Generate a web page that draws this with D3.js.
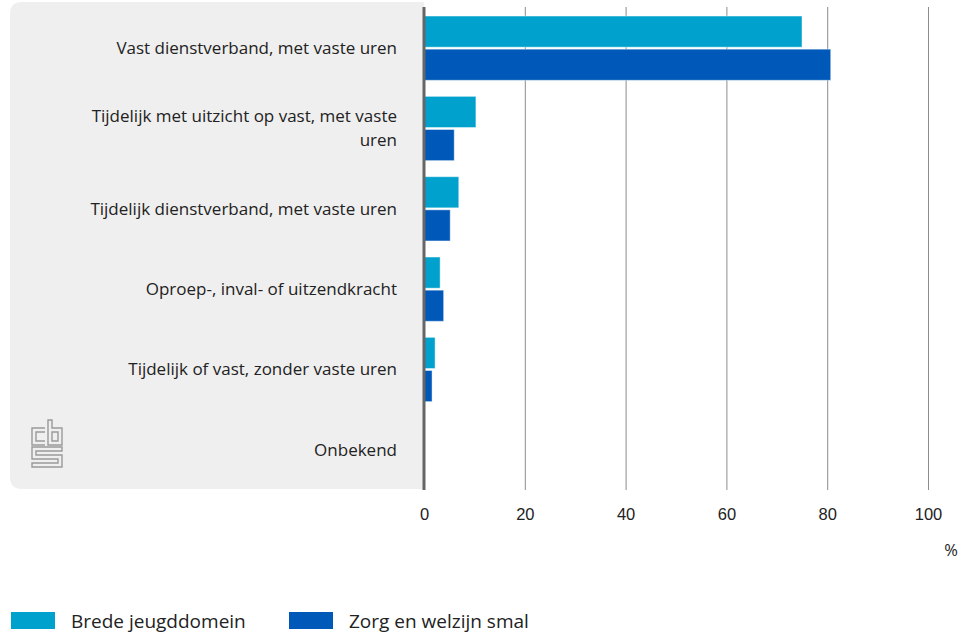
<!DOCTYPE html>
<html><head><meta charset="utf-8">
<script src="https://cdn.jsdelivr.net/npm/d3@7"></script>
<style>body{margin:0;background:#fff}svg{display:block;font-family:"Open Sans","Noto Sans",sans-serif}</style>
</head><body><svg id="c" width="968" height="634"></svg>
<script>
const categories = [
  ["Vast dienstverband, met vaste uren"],
  ["Tijdelijk met uitzicht op vast, met vaste", "uren"],
  ["Tijdelijk dienstverband, met vaste uren"],
  ["Oproep-, inval- of uitzendkracht"],
  ["Tijdelijk of vast, zonder vaste uren"],
  ["Onbekend"]
];
const seriesNames = ["Brede jeugddomein", "Zorg en welzijn smal"];
const bredeJeugd = [75.0, 10.3, 6.9, 3.2, 2.2, 0];
const zorgWelzijn = [80.7, 6.0, 5.2, 3.9, 1.6, 0];
const xTicks = [0, 20, 40, 60, 80, 100];
const colors = ["#00a1cd", "#0058b8"];

const svg = d3.select("#c");
const x = d3.scaleLinear().domain([0, 100]).range([424, 928]);
const y = d3.scaleBand().domain(d3.range(categories.length)).range([8, 490]).paddingInner(0.2).paddingOuter(0.1);
const yInner = d3.scaleBand().domain([0, 1]).range([0, y.bandwidth()]).paddingInner(0.06);

// panel
svg.append("path").attr("fill", "#efefef")
  .attr("d", `M10,2 H424 V489 H22 Q10,489 10,477 V14 Q10,2 22,2 Z`);

// gridlines
svg.append("g").selectAll("line").data(xTicks.filter(d => d > 0)).join("line")
  .attr("x1", d => x(d) + 0.5).attr("x2", d => x(d) + 0.5)
  .attr("y1", 7).attr("y2", 490).attr("stroke", "#8c8c8c").attr("stroke-width", 1);

// bars
const series = [bredeJeugd, zorgWelzijn];
series.forEach((vals, si) => {
  svg.append("g").selectAll("rect").data(vals).join("rect")
    .attr("x", x(0)).attr("y", (d, i) => y(i) + yInner(si))
    .attr("width", d => Math.max(0, x(d) - x(0))).attr("height", yInner.bandwidth())
    .attr("fill", colors[si]).attr("stroke", "rgba(255,255,255,0.45)").attr("stroke-width", 1)
    .style("display", d => d > 0 ? null : "none");
});

// axis line
svg.append("line").attr("x1", 424).attr("x2", 424).attr("y1", 7).attr("y2", 490)
  .attr("stroke", "#666").attr("stroke-width", 3);

// x tick labels via axis
const ax = svg.append("g").attr("transform", "translate(0,490)")
  .call(d3.axisBottom(x).tickValues(xTicks).tickSize(0).tickPadding(18).tickFormat(d3.format("d")));
ax.select(".domain").remove();
ax.selectAll("text").attr("font-size", 16.5).attr("fill", "#222").style("font-family", "inherit");
svg.append("text").attr("x", 958).attr("y", 556).attr("text-anchor", "end").attr("font-size", 16.5).attr("fill", "#222").text("%");

// category labels
categories.forEach((lines, i) => {
  const cy = y(i) + y.bandwidth() / 2;
  const lh = 24;
  const t = svg.append("text").attr("text-anchor", "end").attr("font-size", 17).attr("fill", "#222");
  lines.forEach((ln, j) => {
    t.append("tspan").attr("x", 397).attr("y", cy + (j - (lines.length - 1) / 2) * lh).attr("dy", "0.35em").text(ln);
  });
});

// logo
const lg = svg.append("g").attr("fill", "none").attr("stroke", "#9a9a9a").attr("stroke-width", 1.4);
lg.append("path").attr("d", "M45,428 H32 V445 H45 M45,432 H36 V441 H45");
lg.append("path").attr("d", "M48,420 V445 H62 V428 H52 V420 Z M52,432 H58 V441 H52 Z");
lg.append("path").attr("d", "M62,447 H32 V459 H58 V463 H32 V467 H62 V455 H36 V451 H62 Z");

// legend
const leg = svg.append("g");
const legX = [11, 289];
seriesNames.forEach((n, i) => {
  leg.append("rect").attr("x", legX[i]).attr("y", 612).attr("width", 44).attr("height", 17).attr("fill", colors[i]);
  leg.append("text").attr("x", legX[i] + 60).attr("y", 621).attr("dy", "0.35em").attr("font-size", 19).attr("fill", "#222").text(n);
});
</script></body></html>
